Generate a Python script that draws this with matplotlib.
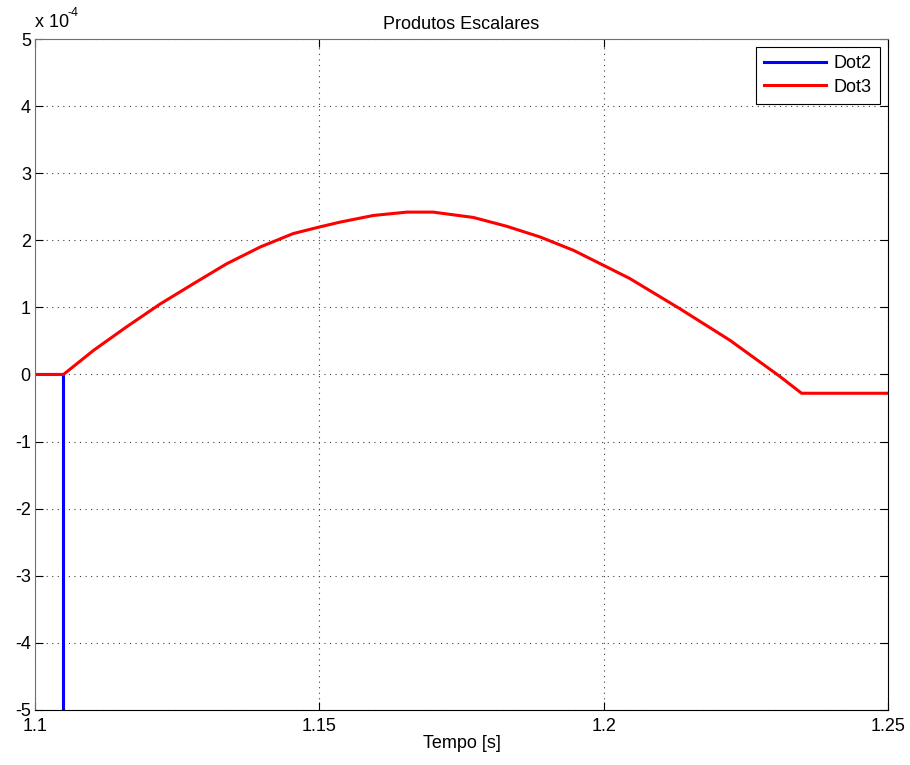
import matplotlib.pyplot as plt

plt.rcParams['font.family'] = ['Liberation Sans', 'DejaVu Sans']
plt.rcParams['axes.unicode_minus'] = False

# Dot2: zero until ~1.105 s, then drops far below the axis
t_dot2 = [1.100, 1.105, 1.105, 1.250]
dot2 = [0.0, 0.0, -100.0, -100.0]   # x 1e-4

# Dot3 (values in units of 1e-4)
t_dot3 = [1.100, 1.105, 1.1103, 1.1161, 1.1220, 1.1278, 1.1337, 1.1396,
          1.1454, 1.1501, 1.1536, 1.1595, 1.1654, 1.1700, 1.1771, 1.1829,
          1.1888, 1.1947, 1.1999, 1.2046, 1.2134, 1.2222, 1.2310, 1.2348,
          1.250]
dot3 = [0.0, 0.0, 0.36, 0.71, 1.05, 1.35, 1.65, 1.90,
        2.10, 2.20, 2.27, 2.37, 2.42, 2.42, 2.34, 2.21,
        2.05, 1.85, 1.63, 1.43, 0.98, 0.51, -0.03, -0.28,
        -0.28]

fig = plt.figure(figsize=(9.1, 7.65), dpi=100)
ax = fig.add_axes([0.0385, 0.072, 0.9373, 0.877])

ax.plot(t_dot2, dot2, color='#0000ff', lw=2.2, label='Dot2')
ax.plot(t_dot3, dot3, color='#ff0000', lw=2.2, label='Dot3')

ax.set_xlim(1.1, 1.25)
ax.set_ylim(-5, 5)
ax.set_xticks([1.1, 1.15, 1.2, 1.25])
ax.set_xticklabels(['1.1', '1.15', '1.2', '1.25'])
ax.set_yticks(range(-5, 6))
ax.tick_params(direction='in', labelsize=13, length=6, top=True, right=True,
               pad=3)
ax.tick_params(axis='x', pad=6)
ax.grid(True, linestyle=(0, (1, 4)), color='#404040', linewidth=0.8)
for s in ['top', 'left']:
    ax.spines[s].set_color('#707070')

ax.set_title('Produtos Escalares', fontsize=13, pad=7)
ax.set_xlabel('Tempo [s]', fontsize=13, labelpad=0)
ax.text(0.0, 1.012, 'x 10', transform=ax.transAxes, fontsize=13,
        ha='left', va='bottom')
ax.text(0.0375, 1.03, '-4', transform=ax.transAxes, fontsize=9,
        ha='left', va='bottom')

leg = ax.legend(loc='upper right', fontsize=13, fancybox=False,
                edgecolor='black', framealpha=1, handlelength=3.4,
                handletextpad=0.45, borderaxespad=0.45, labelspacing=0.35,
                borderpad=0.45)
leg.get_frame().set_linewidth(0.8)

fig.savefig('out.png')
